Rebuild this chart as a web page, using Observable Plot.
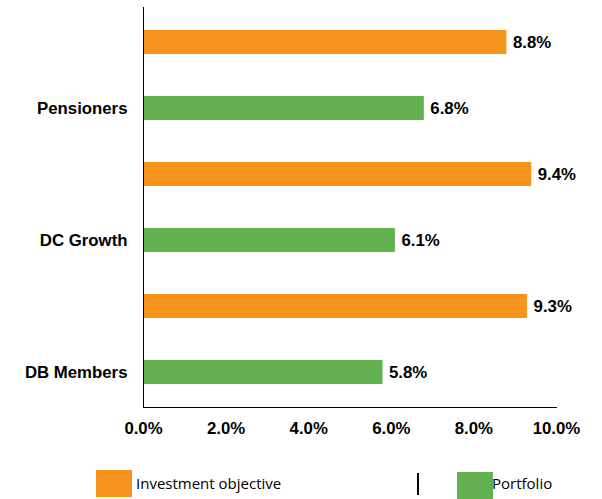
<!DOCTYPE html>
<html>
<head>
<meta charset="utf-8">
<script src="https://cdn.jsdelivr.net/npm/d3@7"></script>
<script src="https://cdn.jsdelivr.net/npm/@observablehq/plot@0.6"></script>
<style>
  html, body { margin: 0; padding: 0; background: #fff; overflow: hidden; }
  #wrap { position: relative; width: 602px; height: 499px; }
  #chart svg text { font-family: "Liberation Sans", Arial, sans-serif; font-weight: bold; font-size: 16.8px; fill: #000; }
  .lg { position: absolute; font-family: "Open Sans", sans-serif; font-size: 15px; color: #000; white-space: nowrap; }
  .sw { position: absolute; }
</style>
</head>
<body>
<div id="wrap">
  <div id="chart"></div>
  <div class="sw" style="left:96px;top:470px;width:36px;height:27px;background:#F7941E"></div>
  <div class="lg" style="left:136px;top:473px;">Investment objective</div>
  <div class="sw" style="left:417px;top:473px;width:1.5px;height:22px;background:#000"></div>
  <div class="sw" style="left:457px;top:472px;width:36px;height:27px;background:#62B04F"></div>
  <div class="lg" style="left:492px;top:473px;">Portfolio</div>
</div>
<script>
const groups = ["Pensioners", "DC Growth", "DB Members"];
const objective = [8.8, 9.4, 9.3];
const portfolio = [6.8, 6.1, 5.8];
const seriesNames = ["Investment objective", "Portfolio"];
const xTicks = [0, 2, 4, 6, 8, 10];
const colors = ["#F7941E", "#62B04F"];

const rows = [];
groups.forEach((g, i) => {
  rows.push({key: g + "|obj", group: g, series: seriesNames[0], value: objective[i] / 100});
  rows.push({key: g + "|port", group: g, series: seriesNames[1], value: portfolio[i] / 100});
});

const chart = Plot.plot({
  width: 602,
  height: 450,
  marginLeft: 143,
  marginRight: 46,
  marginTop: 7,
  marginBottom: 43,
  style: {fontSize: "16.8px", color: "#000"},
  x: {domain: [0, 0.10], ticks: xTicks.map(d => d / 100), tickFormat: d3.format(".1%"), label: null},
  y: {domain: rows.map(d => d.key), paddingInner: 0.64, paddingOuter: 0.32, label: null},
  color: {domain: seriesNames, range: colors},
  marks: [
    Plot.barX(rows, {y: "key", x: "value", fill: "series"}),
    Plot.text(rows, {y: "key", x: "value", text: d => d3.format(".1%")(d.value), textAnchor: "start", dx: 6, fontSize: 16.8, fontWeight: "bold", fill: "#000"}),
    Plot.axisX({ticks: xTicks.map(d => d / 100), tickFormat: d3.format(".1%"), tickSize: 0, tickPadding: 15, fontSize: 16.8, fontWeight: "bold", label: null}),
    Plot.axisY({tickSize: 0, tickPadding: 16, fontSize: 16.8, fontWeight: "bold", label: null,
      tickFormat: k => k.endsWith("|port") ? k.split("|")[0] : ""}),
    Plot.ruleX([0], {stroke: "#000", strokeWidth: 1}),
    Plot.frame({anchor: "bottom", stroke: "#000", strokeWidth: 1})
  ]
});
document.getElementById("chart").appendChild(chart);
</script>
</body>
</html>
